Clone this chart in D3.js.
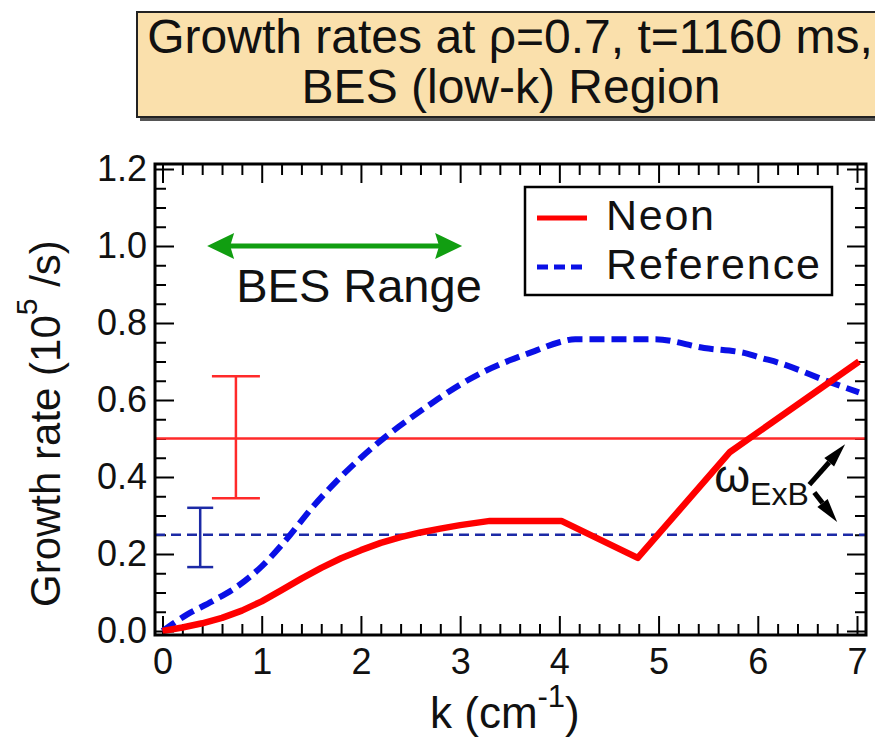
<!DOCTYPE html>
<html>
<head>
<meta charset="utf-8">
<script src="https://cdn.jsdelivr.net/npm/d3@7"></script>
<style>
  body { margin: 0; background: #fff; }
  svg { display: block; font-family: "Liberation Sans", Arial, Helvetica, sans-serif; }
</style>
</head>
<body>
<svg id="chart" width="875" height="740"></svg>
<script>
// Reference (no neon) growth-rate spectrum, k in cm^-1, rate in 10^5 /s
const refK    = [0, 0.25, 0.5, 0.75, 1.0, 1.25, 1.5, 1.75, 2.0, 2.25, 2.5, 2.75, 3.0, 3.25, 3.5, 3.75, 4.0, 4.16, 4.5, 4.96, 5.46, 5.9, 6.0, 6.22, 6.72, 7.02];
const refRate = [0, 0.043, 0.077, 0.115, 0.168, 0.238, 0.318, 0.388, 0.45, 0.505, 0.553, 0.598, 0.64, 0.675, 0.703, 0.727, 0.75, 0.758, 0.758, 0.758, 0.735, 0.72, 0.712, 0.696, 0.647, 0.62];

// Neon-seeded growth-rate spectrum
const neonK    = [0, 0.2, 0.4, 0.6, 0.8, 1.0, 1.2, 1.4, 1.6, 1.8, 2.0, 2.2, 2.4, 2.6, 2.8, 3.0, 3.3, 4.02, 4.79, 5.72, 7.02];
const neonRate = [0, 0.009, 0.02, 0.034, 0.053, 0.077, 0.106, 0.136, 0.164, 0.189, 0.21, 0.229, 0.244, 0.256, 0.266, 0.275, 0.286, 0.286, 0.19, 0.465, 0.70];

// E x B shearing rates with their uncertainty ranges
const neonShear = 0.5,  neonShearK = 0.74, neonShearRange = [0.345, 0.662];
const refShear  = 0.25, refShearK  = 0.38, refShearRange  = [0.166, 0.32];

// k window covered by the BES diagnostic
const besRange = [0.45, 3.02], besLevel = 1.0;

const xTicks = [0, 1, 2, 3, 4, 5, 6, 7];
const yTicks = [0, 0.2, 0.4, 0.6, 0.8, 1.0, 1.2];
const yTickLabels = ["0.0", "0.2", "0.4", "0.6", "0.8", "1.0", "1.2"];

const svg = d3.select("#chart");
const font = '"Liberation Sans", Arial, Helvetica, sans-serif';

const x = d3.scaleLinear().domain([0, 7]).range([162.5, 857]);
const y = d3.scaleLinear().domain([0, 1.2]).range([631, 169]);

const fx0 = 155, fx1 = 866, fy0 = 164, fy1 = 635;

// ---- title box ----
svg.append("rect").attr("x", 140).attr("y", 15).attr("width", 760).attr("height", 106)
  .attr("fill", "#555");
svg.append("rect").attr("x", 137).attr("y", 12).attr("width", 760).attr("height", 105)
  .attr("fill", "#FAE0AC").attr("stroke", "#222").attr("stroke-width", 2);
svg.append("text").attr("x", 510).attr("y", 53).attr("text-anchor", "middle")
  .attr("font-size", 48).attr("fill", "#111").text("Growth rates at ρ=0.7, t=1160 ms,");
svg.append("text").attr("x", 511).attr("y", 103).attr("text-anchor", "middle")
  .attr("font-size", 48).attr("fill", "#111").text("BES (low-k) Region");

// ---- axes with inward ticks on all four sides ----
const minorX = d3.range(0, 7.001, 0.2).filter(v => Math.abs(v - Math.round(v)) > 1e-6);
const minorY = d3.range(0, 1.2001, 0.05).filter(v => Math.abs(v * 5 - Math.round(v * 5)) > 1e-6);

function styleAxis(g) {
  g.select(".domain").remove();
  g.selectAll("line").attr("stroke", "#000").attr("stroke-width", 2);
  g.selectAll("text").attr("font-family", font).attr("fill", "#111");
}

svg.append("g").attr("transform", `translate(0,${fy1})`)
  .call(d3.axisBottom(x).tickValues(xTicks).tickSize(-19).tickPadding(13).tickFormat(d3.format("d")))
  .call(styleAxis).selectAll("text").attr("font-size", 36);
svg.append("g").attr("transform", `translate(0,${fy1})`)
  .call(d3.axisBottom(x).tickValues(minorX).tickSize(-11).tickFormat(""))
  .call(styleAxis);
svg.append("g").attr("transform", `translate(0,${fy0})`)
  .call(d3.axisTop(x).tickValues(xTicks).tickSize(-19).tickFormat(""))
  .call(styleAxis);
svg.append("g").attr("transform", `translate(0,${fy0})`)
  .call(d3.axisTop(x).tickValues(minorX).tickSize(-11).tickFormat(""))
  .call(styleAxis);

svg.append("g").attr("transform", `translate(${fx0},0)`)
  .call(d3.axisLeft(y).tickValues(yTicks).tickSize(-19).tickPadding(8).tickFormat((d, i) => yTickLabels[i]))
  .call(styleAxis).selectAll("text").attr("font-size", 36);
svg.append("g").attr("transform", `translate(${fx0},0)`)
  .call(d3.axisLeft(y).tickValues(minorY).tickSize(-11).tickFormat(""))
  .call(styleAxis);
svg.append("g").attr("transform", `translate(${fx1},0)`)
  .call(d3.axisRight(y).tickValues(yTicks).tickSize(-19).tickFormat(""))
  .call(styleAxis);
svg.append("g").attr("transform", `translate(${fx1},0)`)
  .call(d3.axisRight(y).tickValues(minorY).tickSize(-11).tickFormat(""))
  .call(styleAxis);

// ---- shearing-rate levels and error bars ----
svg.append("line").attr("x1", fx0).attr("x2", fx1).attr("y1", y(neonShear)).attr("y2", y(neonShear))
  .attr("stroke", "#ff2a2a").attr("stroke-width", 2.5);
svg.append("line").attr("x1", fx0).attr("x2", fx1).attr("y1", y(refShear)).attr("y2", y(refShear))
  .attr("stroke", "#1c2aa6").attr("stroke-width", 2.5).attr("stroke-dasharray", "10,6");

function errorBar(k, range, halfCap, color) {
  const g = svg.append("g").attr("stroke", color).attr("stroke-width", 2.5);
  g.append("line").attr("x1", x(k)).attr("x2", x(k)).attr("y1", y(range[0])).attr("y2", y(range[1]));
  range.forEach(v => g.append("line").attr("x1", x(k) - halfCap).attr("x2", x(k) + halfCap)
    .attr("y1", y(v)).attr("y2", y(v)));
}
errorBar(neonShearK, neonShearRange, 24, "#ff2a2a");
errorBar(refShearK, refShearRange, 13, "#1c2aa6");

// ---- growth-rate curves ----
const smooth = d3.line().x(d => x(d[0])).y(d => y(d[1])).curve(d3.curveMonotoneX);
const straight = d3.line().x(d => x(d[0])).y(d => y(d[1]));
svg.append("path").datum(d3.zip(refK, refRate)).attr("d", smooth)
  .attr("fill", "none").attr("stroke", "#0a10e6").attr("stroke-width", 6)
  .attr("stroke-dasharray", "15,7");
svg.append("path").datum(d3.zip(neonK, neonRate)).attr("d", straight)
  .attr("fill", "none").attr("stroke", "#ff0000").attr("stroke-width", 6.5)
  .attr("stroke-linejoin", "round");

// ---- frame ----
svg.append("rect").attr("x", fx0).attr("y", fy0).attr("width", fx1 - fx0).attr("height", fy1 - fy0)
  .attr("fill", "none").attr("stroke", "#000").attr("stroke-width", 3);

// ---- BES range double arrow ----
const green = "#119e11";
const bx0 = x(besRange[0]), bx1 = x(besRange[1]), by = y(besLevel);
svg.append("line").attr("x1", bx0 + 20).attr("x2", bx1 - 20).attr("y1", by).attr("y2", by)
  .attr("stroke", green).attr("stroke-width", 5);
svg.append("path").attr("fill", green)
  .attr("d", `M${bx0},${by} L${bx0 + 27},${by - 13} L${bx0 + 23},${by} L${bx0 + 27},${by + 13} Z`);
svg.append("path").attr("fill", green)
  .attr("d", `M${bx1},${by} L${bx1 - 27},${by - 13} L${bx1 - 23},${by} L${bx1 - 27},${by + 13} Z`);
svg.append("text").attr("x", 359).attr("y", 302).attr("text-anchor", "middle")
  .attr("font-size", 47).attr("fill", "#111").text("BES Range");

// ---- legend ----
const lg = svg.append("g");
lg.append("rect").attr("x", 525).attr("y", 187).attr("width", 307).attr("height", 108)
  .attr("fill", "#fff").attr("stroke", "#000").attr("stroke-width", 2.5);
lg.append("line").attr("x1", 537).attr("x2", 587).attr("y1", 218).attr("y2", 218)
  .attr("stroke", "#ff0000").attr("stroke-width", 5);
lg.append("line").attr("x1", 537).attr("x2", 587).attr("y1", 267).attr("y2", 267)
  .attr("stroke", "#0a10e6").attr("stroke-width", 5).attr("stroke-dasharray", "11,6");
lg.append("text").attr("x", 606).attr("y", 230).attr("font-size", 43).attr("fill", "#111")
  .attr("textLength", 108).text("Neon");
lg.append("text").attr("x", 606).attr("y", 279).attr("font-size", 43).attr("fill", "#111")
  .attr("textLength", 214).text("Reference");

// ---- omega ExB annotation with arrows to the two shearing levels ----
const wt = svg.append("text").attr("x", x(5.56)).attr("y", 492).attr("fill", "#111");
wt.append("tspan").attr("font-size", 46).text("ω");
wt.append("tspan").attr("font-size", 32).attr("dy", 13).text("ExB");

function arrow(k0, v0, k1, v1) {
  const X0 = x(k0), Y0 = y(v0), X1 = x(k1), Y1 = y(v1);
  const a = Math.atan2(Y1 - Y0, X1 - X0);
  const len = 24, w = 6.5;
  const bxp = X1 - len * Math.cos(a), byp = Y1 - len * Math.sin(a);
  svg.append("line").attr("x1", X0).attr("y1", Y0).attr("x2", bxp).attr("y2", byp)
    .attr("stroke", "#000").attr("stroke-width", 5);
  const px = -Math.sin(a) * w, py = Math.cos(a) * w;
  svg.append("path").attr("fill", "#000")
    .attr("d", `M${X1},${Y1} L${bxp + px},${byp + py} L${bxp - px},${byp - py} Z`);
}
arrow(6.52, 0.38, 6.88, 0.485);
arrow(6.57, 0.36, 6.8, 0.283);

// ---- axis titles ----
const xt = svg.append("text").attr("x", 430).attr("y", 728).attr("fill", "#111").attr("font-size", 44);
xt.append("tspan").text("k (cm");
xt.append("tspan").attr("font-size", 31).attr("dy", -21).text("-1");
xt.append("tspan").attr("dy", 21).text(")");

const yt = svg.append("text").attr("transform", "translate(60,607) rotate(-90)")
  .attr("fill", "#111").attr("font-size", 42);
yt.append("tspan").text("Growth rate (10");
yt.append("tspan").attr("font-size", 30).attr("dy", -23).text("5");
yt.append("tspan").attr("dy", 23).text(" /s)");
</script>
</body>
</html>
